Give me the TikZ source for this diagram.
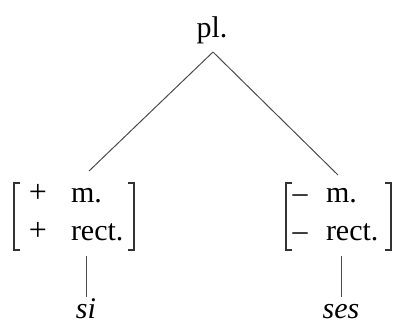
\documentclass[tikz,border=0pt]{standalone}
\usepackage{fontspec}
\setmainfont{Liberation Serif}
\begin{document}
\begin{tikzpicture}[x=1pt,y=-1pt,
  lbl/.style={inner sep=0pt,outer sep=0pt,anchor=base,font=\fontsize{30}{34}\selectfont},
  lblw/.style={lbl,anchor=base west},
  sgn/.style={lbl,font=\fontsize{32}{34}\selectfont},
  leaf/.style={lbl,font=\fontsize{30}{34}\selectfont\itshape},
  edge/.style={draw=black!70,line width=1pt},
  brk/.style={draw=black!80,line width=1.2pt}]
\useasboundingbox (0,0) rectangle (397,325);
% root
\node[lbl] (root) at (212,37) {pl.};
\coordinate (rt) at (213,52);
% left matrix
\node[sgn] (lp1) at (38,202) {+};
\node[sgn] (lp2) at (38,240) {+};
\node[lblw] (lm) at (71,202) {m.};
\node[lblw] (lr) at (71,240) {rect.};
\coordinate (ltop) at (89,171);
\coordinate (lbot) at (86,256);
\draw[brk] (20,183) -- (14,183) -- (14,250) -- (20,250);
\draw[brk] (128,183) -- (134,183) -- (134,250) -- (128,250);
% right matrix
\node[lbl] (rp1) at (300,202) {–};
\node[lbl] (rp2) at (300,240) {–};
\node[lblw] (rm) at (326,202) {m.};
\node[lblw] (rr) at (326,240) {rect.};
\coordinate (rtop) at (338,175);
\coordinate (rbot) at (341,256);
\draw[brk] (292,183) -- (286,183) -- (286,250) -- (292,250);
\draw[brk] (385,183) -- (391,183) -- (391,250) -- (385,250);
% leaves
\node[leaf] (si) at (86,318) {si};
\node[leaf] (ses) at (341,318) {ses};
\coordinate (sitop) at (86,297);
\coordinate (sestop) at (341,297);
% connectors
\draw[edge] (rt) -- (ltop);
\draw[edge] (rt) -- (rtop);
\draw[edge,line width=0.8pt] (lbot) -- (sitop);
\draw[edge,line width=0.8pt] (rbot) -- (sestop);
\end{tikzpicture}
\end{document}
